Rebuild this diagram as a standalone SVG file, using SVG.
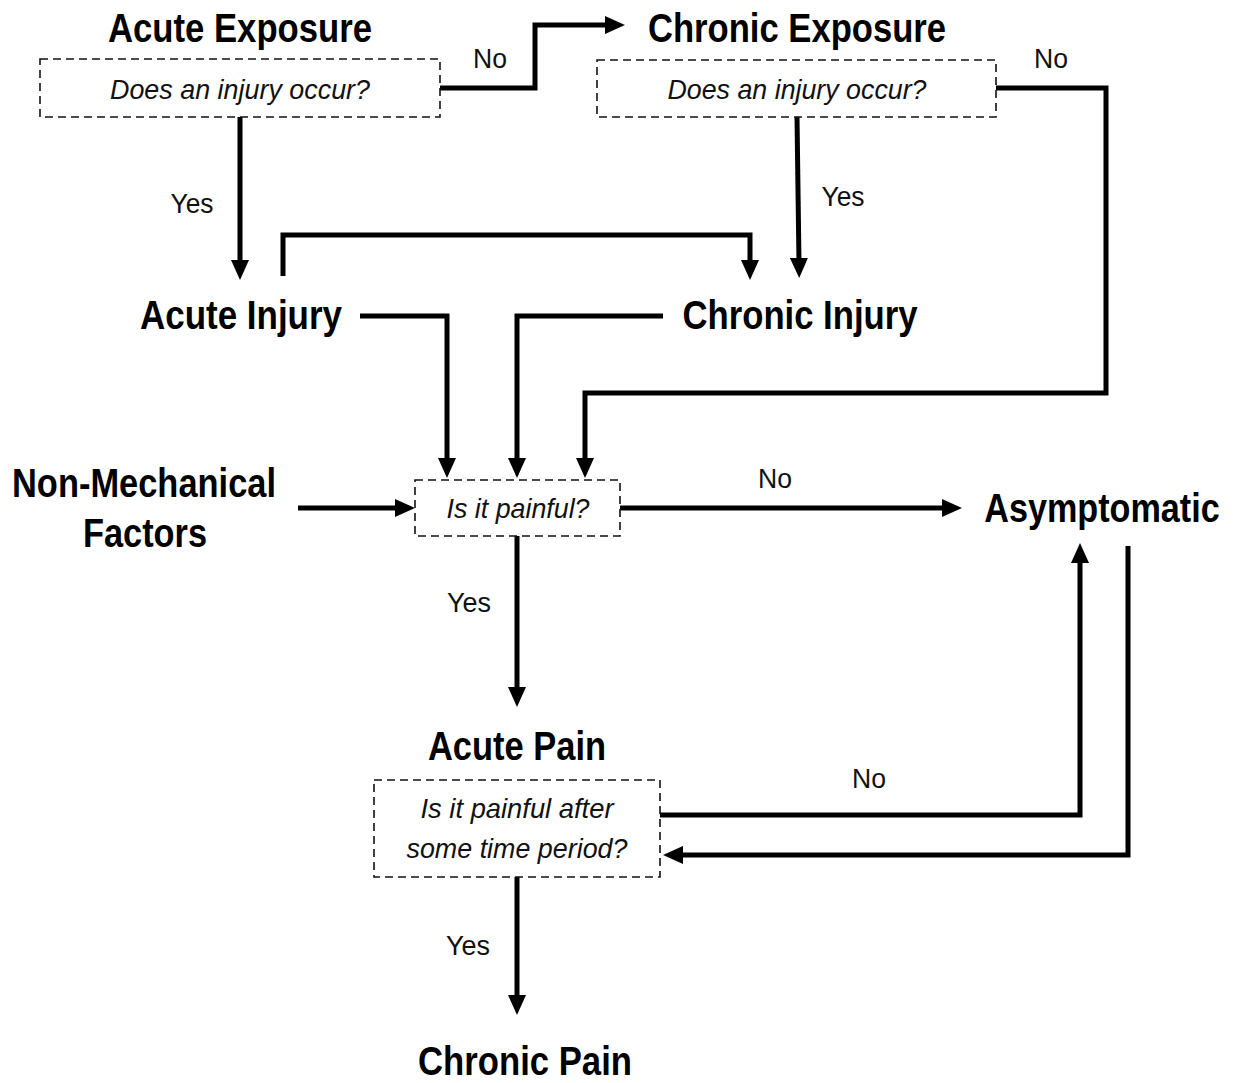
<svg xmlns="http://www.w3.org/2000/svg" width="1233" height="1083" viewBox="0 0 1233 1083">
<style>
.t{font-family:"Liberation Sans",Arial,sans-serif;font-weight:bold;font-size:40px;fill:#000;text-anchor:middle}
.q{font-family:"Liberation Sans",Arial,sans-serif;font-style:italic;font-size:28px;fill:#111;text-anchor:middle}
.l{font-family:"Liberation Sans",Arial,sans-serif;font-size:27px;fill:#111;text-anchor:middle}
.box{fill:#fff;stroke:#111;stroke-width:1.6;stroke-dasharray:8 5}
.c{fill:none;stroke:#000;stroke-width:5;stroke-linejoin:miter}
</style>
<defs>
<marker id="ah" viewBox="0 0 20 18" refX="4" refY="9" markerWidth="20" markerHeight="18" markerUnits="userSpaceOnUse" orient="auto">
<path d="M0,0 L20,9 L0,18 z" fill="#000"/>
</marker>
</defs>
<rect width="1233" height="1083" fill="#fff"/>
<g id="connectors">
<path class="c" d="M440,88 H535 V25 H609" marker-end="url(#ah)"/>
<path class="c" d="M996,88 H1106 V393 H585 V462" marker-end="url(#ah)"/>
<path class="c" d="M240,117 V264" marker-end="url(#ah)"/>
<path class="c" d="M797,117 L799,262" marker-end="url(#ah)"/>
<path class="c" d="M283,276 V235 H750 V264" marker-end="url(#ah)"/>
<path class="c" d="M360,316 H447 V462" marker-end="url(#ah)"/>
<path class="c" d="M663,316 H517 V462" marker-end="url(#ah)"/>
<path class="c" d="M298,508 H399" marker-end="url(#ah)"/>
<path class="c" d="M620,508 H946" marker-end="url(#ah)"/>
<path class="c" d="M517,536 V691" marker-end="url(#ah)"/>
<path class="c" d="M660,815 H1080 V559" marker-end="url(#ah)"/>
<path class="c" d="M1128,546 V855 H679" marker-end="url(#ah)"/>
<path class="c" d="M517,877 V999" marker-end="url(#ah)"/>
<text class="l" x="490" y="68" textLength="34" lengthAdjust="spacingAndGlyphs">No</text>
<text class="l" x="1051" y="68" textLength="34" lengthAdjust="spacingAndGlyphs">No</text>
<text class="l" x="192" y="213" textLength="43" lengthAdjust="spacingAndGlyphs">Yes</text>
<text class="l" x="843" y="206" textLength="43" lengthAdjust="spacingAndGlyphs">Yes</text>
<text class="l" x="775" y="488" textLength="34" lengthAdjust="spacingAndGlyphs">No</text>
<text class="l" x="469" y="612" textLength="44" lengthAdjust="spacingAndGlyphs">Yes</text>
<text class="l" x="869" y="788" textLength="34" lengthAdjust="spacingAndGlyphs">No</text>
<text class="l" x="468" y="955" textLength="44" lengthAdjust="spacingAndGlyphs">Yes</text>
</g>
<g id="acute-exposure">
<text class="t" x="240" y="42" textLength="264" lengthAdjust="spacingAndGlyphs">Acute Exposure</text>
<rect class="box" x="40" y="59" width="400" height="58"/>
<text class="q" x="240" y="99" textLength="260" lengthAdjust="spacingAndGlyphs">Does an injury occur?</text>
</g>
<g id="chronic-exposure">
<text class="t" x="797" y="42" textLength="298" lengthAdjust="spacingAndGlyphs">Chronic Exposure</text>
<rect class="box" x="597" y="60" width="399" height="57"/>
<text class="q" x="797" y="99" textLength="259" lengthAdjust="spacingAndGlyphs">Does an injury occur?</text>
</g>
<g id="acute-injury">
<text class="t" x="241" y="329" textLength="202" lengthAdjust="spacingAndGlyphs">Acute Injury</text>
</g>
<g id="chronic-injury">
<text class="t" x="800" y="329" textLength="235" lengthAdjust="spacingAndGlyphs">Chronic Injury</text>
</g>
<g id="non-mechanical">
<text class="t" x="144" y="497" textLength="264" lengthAdjust="spacingAndGlyphs">Non-Mechanical</text>
<text class="t" x="145" y="547" textLength="124" lengthAdjust="spacingAndGlyphs">Factors</text>
</g>
<g id="is-painful">
<rect class="box" x="415" y="480" width="205" height="56"/>
<text class="q" x="518" y="518" textLength="143" lengthAdjust="spacingAndGlyphs">Is it painful?</text>
</g>
<g id="asymptomatic">
<text class="t" transform="translate(1102,522) scale(0.85,1)" x="0" y="0" textLength="277" lengthAdjust="spacingAndGlyphs">Asymptomatic</text>
</g>
<g id="acute-pain">
<text class="t" x="517" y="760" textLength="178" lengthAdjust="spacingAndGlyphs">Acute Pain</text>
<rect class="box" x="374" y="780" width="286" height="97"/>
<text class="q" x="517" y="818" textLength="193" lengthAdjust="spacingAndGlyphs">Is it painful after</text>
<text class="q" x="517" y="858" textLength="221" lengthAdjust="spacingAndGlyphs">some time period?</text>
</g>
<g id="chronic-pain">
<text class="t" x="525" y="1075" textLength="214" lengthAdjust="spacingAndGlyphs">Chronic Pain</text>
</g>
</svg>
